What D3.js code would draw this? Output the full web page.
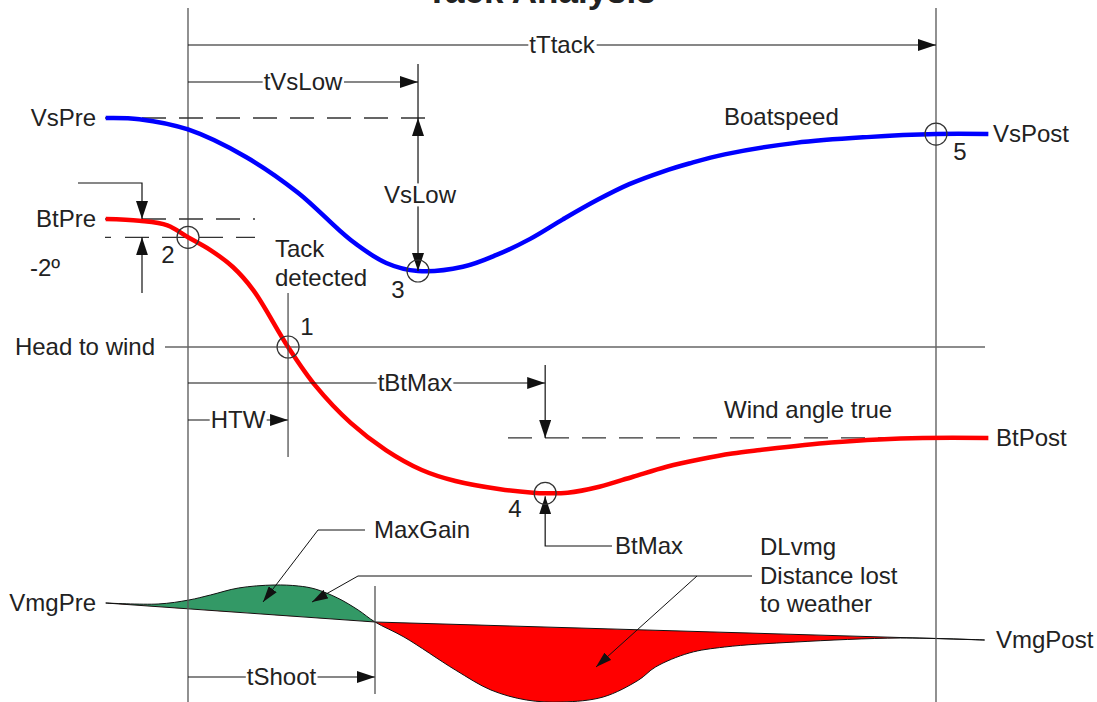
<!DOCTYPE html>
<html><head><meta charset="utf-8">
<script src="https://cdn.jsdelivr.net/npm/d3@7"></script>
<style>
body{margin:0;background:#fff}
svg{display:block}
text{font-family:"Liberation Sans",Arial,sans-serif;fill:#222;font-size:24px}
</style>
</head><body>
<svg id="c" width="1097" height="702"></svg>
<script>
// ---- data (time in seconds from tack start) ----
const speedTime = [-4.4, -2.6, 0, 3.1, 5.9, 8.7, 10.6, 12.3, 14.7, 16.5, 18.3, 20.05, 21.9, 23.6, 25.4, 26.8, 28.7, 32.5, 36.3, 40.0, 42.8];
const boatSpeed = [7.00, 6.97, 6.70, 5.98, 5.04, 3.81, 3.21, 3.00, 3.11, 3.42, 3.84, 4.35, 4.86, 5.27, 5.60, 5.81, 6.05, 6.35, 6.50, 6.58, 6.58];

const angleTime = [-4.4, -2.6, -1.1, 0, 1.2, 2.4, 3.5, 5.35, 6.8, 8.7, 10.6, 12.5, 14.3, 16.7, 18.45, 19.1, 20.3, 22.0, 23.8, 25.6, 27.4, 29.1, 30.6, 34.4, 38.1, 42.8];
const boatAngle = [14.0, 13.8, 13.3, 12.0, 10.6, 8.75, 6.2, 0, -4.2, -8.3, -11.3, -13.45, -14.66, -15.56, -15.94, -16.0, -15.94, -15.28, -14.19, -13.1, -12.28, -11.65, -11.27, -10.45, -10.0, -9.95];

const vmgTime   = [-4.4, -1.6, 0.05, 1.2, 2.7, 4.6, 5.9, 6.8, 8.0, 9.1, 10.0, 11.55, 14.3, 16.2, 18.1, 20.0, 22.2, 24.1, 25.0, 26.8, 28.7, 32.5, 38.1, 42.6];
const vmgActual = [4.00, 3.99, 4.03, 4.08, 4.15, 4.18, 4.17, 4.14, 4.05, 3.93, 3.81, 3.66, 3.33, 3.13, 3.03, 3.01, 3.06, 3.23, 3.36, 3.50, 3.56, 3.61, 3.65, 3.63];
const targetTime = [-4.4, 10.0, 42.6];
const vmgTarget  = [4.00, 3.81, 3.63];

const tackStart = 0, tackEnd = 40;
const tVsLow = 12.3, vsLow = 3.0, vsPre = 7.0, vsPost = 6.58;
const tHTW = 5.35, tBtMax = 19.1, btMax = -16, btPre = 14, btPost = -9.95, btDetect = 12;
const tShoot = 10.0;

// ---- scales ----
const x = d3.scaleLinear().domain([tackStart, tackEnd]).range([188, 936]);
const ySpeed = d3.scaleLinear().domain([3, 7]).range([271, 118]);
const yAngle = d3.scaleLinear().domain([0, 14]).range([347, 219]);
const yVmg = d3.scaleLinear().domain([3, 4]).range([703, 603]);
const smooth = d3.curveCatmullRom.alpha(0.5);

const svg = d3.select("#c");
const defs = svg.append("defs");
defs.append("marker").attr("id","arr").attr("viewBox","0 -6 18 12")
  .attr("refX",18).attr("refY",0).attr("markerWidth",18).attr("markerHeight",12)
  .attr("markerUnits","userSpaceOnUse").attr("orient","auto-start-reverse")
  .append("path").attr("d","M0,-6L18,0L0,6Z").attr("fill","#111");
defs.append("marker").attr("id","arrS").attr("viewBox","0 -5 16 10")
  .attr("refX",16).attr("refY",0).attr("markerWidth",16).attr("markerHeight",10)
  .attr("markerUnits","userSpaceOnUse").attr("orient","auto")
  .append("path").attr("d","M0,-5L16,0L0,5Z").attr("fill","#111");

const targetAt = t => {
  for (let i = 0; i < targetTime.length - 1; i++) {
    if (t <= targetTime[i+1] || i === targetTime.length - 2) {
      const f = (t - targetTime[i]) / (targetTime[i+1] - targetTime[i]);
      return vmgTarget[i] + f * (vmgTarget[i+1] - vmgTarget[i]);
    }
  }
};

// ---- VMG areas ----
const vmgData = vmgTime.map((t,i)=>({t, a:vmgActual[i], b:targetAt(t)}));
const tgtPts = targetTime.map((t,i)=>[x(t), yVmg(vmgTarget[i])]);
const above = [[x(-6),0],[x(-6), tgtPts[0][1]]].concat(tgtPts, [[x(46), tgtPts[tgtPts.length-1][1]],[x(46),0]]);
const below = [[x(-6),702],[x(-6), tgtPts[0][1]]].concat(tgtPts, [[x(46), tgtPts[tgtPts.length-1][1]],[x(46),702]]);
defs.append("clipPath").attr("id","clipA").append("path").attr("d","M"+above.join("L")+"Z");
defs.append("clipPath").attr("id","clipB").append("path").attr("d","M"+below.join("L")+"Z");
const area = d3.area().x(d=>x(d.t)).y0(d=>yVmg(d.b)).y1(d=>yVmg(d.a)).curve(smooth);
svg.append("path").datum(vmgData).attr("d",area).attr("fill","#339966").attr("clip-path","url(#clipA)");
svg.append("path").datum(vmgData).attr("d",area).attr("fill","#ff0000").attr("clip-path","url(#clipB)");
svg.append("path").datum(vmgData)
  .attr("d", d3.line().x(d=>x(d.t)).y(d=>yVmg(d.a)).curve(smooth))
  .attr("fill","none").attr("stroke","#111").attr("stroke-width",1);
svg.append("path").datum(targetTime.map((t,i)=>[t,vmgTarget[i]]))
  .attr("d", d3.line().x(d=>x(d[0])).y(d=>yVmg(d[1])))
  .attr("fill","none").attr("stroke","#111").attr("stroke-width",1);

// ---- vertical frame lines ----
[tackStart, tackEnd].forEach(t=>{
  svg.append("line").attr("x1",x(t)).attr("x2",x(t)).attr("y1",8).attr("y2",702)
    .attr("stroke","#555").attr("stroke-width",1.3);
});

// head to wind line
svg.append("line").attr("x1",165).attr("x2",985).attr("y1",yAngle(0)).attr("y2",yAngle(0))
  .attr("stroke","#666").attr("stroke-width",1.5);

// dashed reference lines
const dashed = (x1,x2,y)=>svg.append("line").attr("x1",x1).attr("x2",x2).attr("y1",y).attr("y2",y)
  .attr("stroke","#333").attr("stroke-width",1.3).attr("stroke-dasharray","24,13");
dashed(105, 437, ySpeed(vsPre));
dashed(105, 255, yAngle(btPre));
dashed(105, 255, yAngle(btDetect)).attr("stroke-dasharray","6,14,24,13,24,13,24,13,24,13");
dashed(508, 985, yAngle(btPost));

// ---- curves ----
svg.append("path").datum(speedTime.map((t,i)=>[t,boatSpeed[i]]))
  .attr("d", d3.line().x(d=>x(d[0])).y(d=>ySpeed(d[1])).curve(smooth))
  .attr("fill","none").attr("stroke","#0000ff").attr("stroke-width",4.5);
svg.append("path").datum(angleTime.map((t,i)=>[t,boatAngle[i]]))
  .attr("d", d3.line().x(d=>x(d[0])).y(d=>yAngle(d[1])).curve(smooth))
  .attr("fill","none").attr("stroke","#ff0000").attr("stroke-width",4.5);

// ---- helper drawing ----
const poly = (pts, marker, w=1.2) => svg.append("path").attr("d","M"+pts.join("L"))
  .attr("fill","none").attr("stroke","#111").attr("stroke-width",w)
  .attr("marker-end", marker ? `url(#${marker})` : null);
const label = (px, py, txt, anchor="start", bg=false) => {
  const g = svg.append("g");
  const tx = g.append("text").attr("x",px).attr("y",py).attr("dy","0.35em").attr("text-anchor",anchor).text(txt);
  if (bg) {
    const b = tx.node().getBBox();
    g.insert("rect","text").attr("x",b.x-1).attr("y",b.y+2).attr("width",b.width+2).attr("height",b.height-4).attr("fill","#fff");
  }
  return tx;
};

// dimension arrows
poly([[x(tackStart),45],[x(tackEnd),45]], "arr");
label((x(tackStart)+x(tackEnd))/2, 45, "tTtack", "middle", true);
poly([[x(tackStart),82],[x(tVsLow),82]], "arr");
label((x(tackStart)+x(tVsLow))/2, 82, "tVsLow", "middle", true);
poly([[x(tackStart),383],[x(tBtMax),383]], "arr");
label(415, 383, "tBtMax", "middle", true);
poly([[x(tackStart),420],[x(tHTW),420]], "arr");
label((x(tackStart)+x(tHTW))/2, 420, "HTW", "middle", true);
poly([[x(tackStart),677],[x(tShoot),677]], "arr");
label((x(tackStart)+x(tShoot))/2, 677, "tShoot", "middle", true);

// vertical helper lines
svg.append("line").attr("x1",x(tVsLow)).attr("x2",x(tVsLow)).attr("y1",64).attr("y2",ySpeed(vsPre)).attr("stroke","#111").attr("stroke-width",1.2);
svg.append("line").attr("x1",x(tVsLow)).attr("x2",x(tVsLow)).attr("y1",ySpeed(vsPre)).attr("y2",ySpeed(vsLow))
  .attr("stroke","#111").attr("stroke-width",1.2).attr("marker-start","url(#arr)").attr("marker-end","url(#arr)");
label(x(tVsLow)+2, 195, "VsLow", "middle", true);
poly([[x(tBtMax),365],[x(tBtMax),yAngle(btPost)]], "arr");
svg.append("line").attr("x1",x(tHTW)).attr("x2",x(tHTW)).attr("y1",293).attr("y2",457).attr("stroke","#444").attr("stroke-width",1.2);
svg.append("line").attr("x1",x(tShoot)).attr("x2",x(tShoot)).attr("y1",586).attr("y2",694).attr("stroke","#444").attr("stroke-width",1.2);

// -2 deg arrows
poly([[78,183],[142,183],[142,yAngle(btPre)]], "arr");
poly([[142,293],[142,yAngle(btDetect)]], "arr");

// BtMax arrow
poly([[612,546],[x(tBtMax),546],[x(tBtMax),yAngle(btMax)+3]], "arr");

// leaders
poly([[365,530],[318,530],[263,602]], "arrS", 1);
poly([[752,576],[358,576],[312,602]], "arrS", 1);
poly([[697,576],[596,667]], "arrS", 1);

// ---- event circles ----
const circ = [[x(tHTW), yAngle(0)], [x(tackStart), yAngle(btDetect)], [x(tVsLow), ySpeed(vsLow)], [x(tBtMax), yAngle(btMax)], [x(tackEnd), ySpeed(vsPost)]];
circ.forEach(c=>svg.append("circle").attr("cx",c[0]).attr("cy",c[1]).attr("r",11).attr("fill","none").attr("stroke","#333").attr("stroke-width",1.2));
label(307, 327, "1", "middle");
label(168, 255, "2", "middle");
label(398, 290, "3", "middle");
label(515, 509, "4", "middle");
label(960, 152, "5", "middle");

// ---- text labels ----
svg.append("text").attr("x",541).attr("y",3).attr("text-anchor","middle")
  .style("font-size","35px").style("font-weight","bold").text("Tack Analysis");
label(96, ySpeed(vsPre), "VsPre", "end");
label(96, yAngle(btPre), "BtPre", "end");
label(30, 268, "-2º", "start");
label(155, yAngle(0), "Head to wind", "end");
label(96, yVmg(vmgTarget[0]), "VmgPre", "end");
label(993, ySpeed(vsPost), "VsPost", "start");
label(996, yAngle(btPost), "BtPost", "start");
label(996, 640, "VmgPost", "start");
label(724, 117, "Boatspeed", "start");
label(724, 410, "Wind angle true", "start");
label(275, 249, "Tack", "start");
label(275, 278, "detected", "start");
label(615, 546, "BtMax", "start");
label(374, 530, "MaxGain", "start");
label(760, 547, "DLvmg", "start");
label(760, 576, "Distance lost", "start");
label(760, 604, "to weather", "start");
</script>
</body></html>
